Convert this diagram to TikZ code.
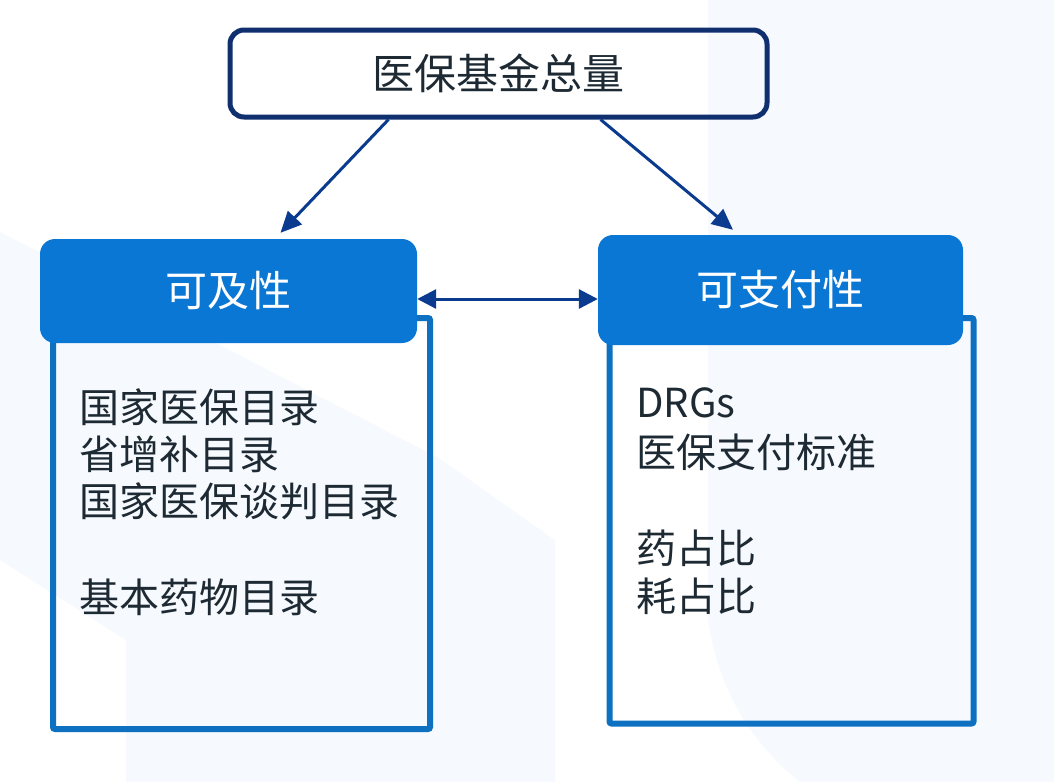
\documentclass[tikz,border=0pt]{standalone}
\usepackage{fontspec}
\setmainfont{Noto Sans CJK SC}
\usetikzlibrary{arrows.meta,calc}
\definecolor{navy}{HTML}{0F2F6E}
\definecolor{arrowblue}{HTML}{0B3B8F}
\definecolor{headblue}{HTML}{0A77D5}
\definecolor{bodyblue}{HTML}{0E70C0}
\definecolor{txt}{HTML}{1E2A33}
\definecolor{faint}{HTML}{F6F9FD}
\tikzset{
  topbox/.style={draw=navy, line width=5pt, rounded corners=14pt,
    minimum width=537pt, minimum height=87pt, inner sep=0pt,
    font=\fontsize{42}{50}\selectfont, text=txt},
  headbox/.style={fill=headblue, rounded corners=15pt, inner sep=0pt,
    font=\fontsize{42}{50}\selectfont, text=white},
  bodybox/.style={draw=bodyblue, line width=6pt, rounded corners=2pt, inner sep=0pt},
  item/.style={anchor=west, inner sep=0pt, font=\fontsize{40}{48}\selectfont, text=txt},
  conn/.style={draw=arrowblue, line width=3pt, -{Triangle[length=21pt,width=19pt]}},
  dconn/.style={draw=arrowblue, line width=3pt, {Triangle[length=19pt,width=19pt]}-{Triangle[length=19pt,width=19pt]}}
}
\begin{document}
\begin{tikzpicture}[x=1pt,y=-1pt]
\fill[white] (0,0) rectangle (1054,782);
\useasboundingbox (0,0) rectangle (1054,782);
% faint background shapes
\fill[faint] (708,0) -- (1054,0) -- (1054,782) -- (800,782) .. controls (760,750) and (720,700) .. (708,620) -- cycle;
\fill[faint] (0,232) -- (437,457) -- (555,540) -- (555,782) -- (126,782) -- (126,640) -- (0,560) -- cycle;
% body boxes
\node[bodybox, minimum width=377pt, minimum height=411pt] (accbody) at (241.5,523.5) {};
\node[bodybox, minimum width=364pt, minimum height=405.5pt] (paybody) at (791.5,520.75) {};
% headers
\node[headbox, minimum width=377pt, minimum height=104pt] (acc) at (228.5,291) {可及性};
\node[headbox, minimum width=365pt, minimum height=110pt] (pay) at (780.5,290) {可支付性};
% top
\node[topbox] (top) at (498.5,73.5) {医保基金总量};
% connectors
\draw[conn] ([xshift=-110pt]top.south) -- ([xshift=52pt,yshift=6pt]acc.north);
\draw[conn] ([xshift=102pt]top.south) -- ([xshift=-47.5pt,yshift=5pt]pay.north);
\draw[dconn] ([yshift=-8pt]acc.east) -- ([yshift=-8pt]acc.east -| pay.west);
% left items
\node[item] (l1) at (79,407) {国家医保目录};
\node[item] (l2) at (79,454) {省增补目录};
\node[item] (l3) at (79,501) {国家医保谈判目录};
\node[item] (l4) at (79,597) {基本药物目录};
% right items
\node[item] (r1) at (636,403) {DRGs};
\node[item] (r2) at (636,452) {医保支付标准};
\node[item] (r3) at (636,548) {药占比};
\node[item] (r4) at (636,596) {耗占比};
\end{tikzpicture}
\end{document}
